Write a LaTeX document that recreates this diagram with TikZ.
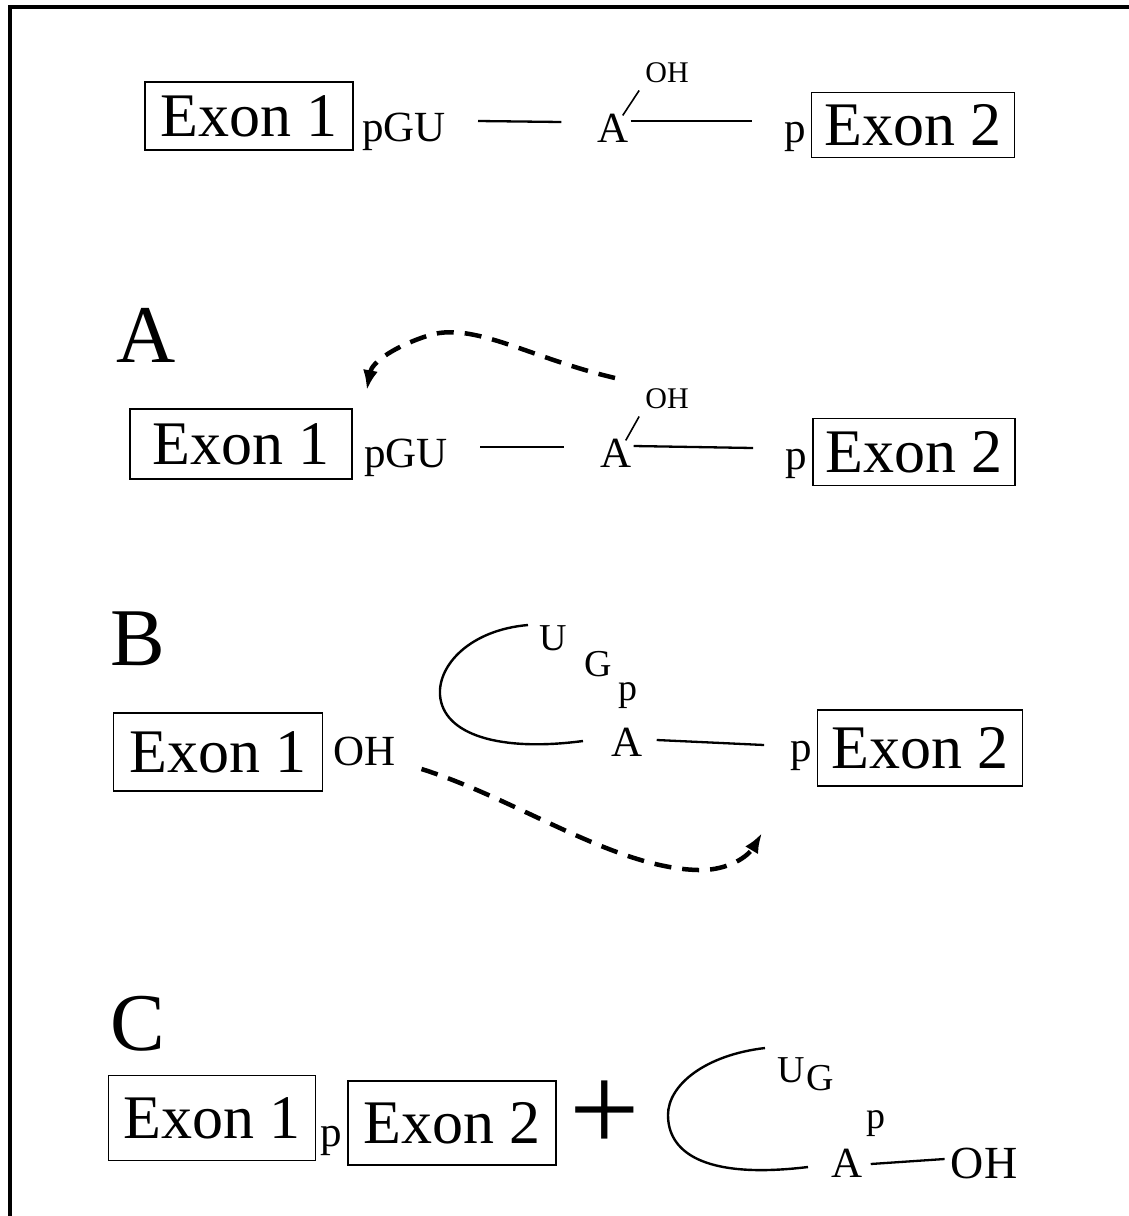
\documentclass[tikz,border=0pt]{standalone}
\usepackage{fontspec}
\setmainfont{Liberation Serif}
\usetikzlibrary{arrows.meta}
\begin{document}
\begin{tikzpicture}[x=1pt,y=-1pt,
  exon/.style={draw,line width=1.6pt,inner sep=0pt,font=\fontsize{62}{62}\selectfont},
  small/.style={inner sep=0pt,anchor=base,font=\fontsize{43}{43}\selectfont},
  tiny/.style={inner sep=0pt,anchor=base,font=\fontsize{30}{30}\selectfont},
  loopletter/.style={inner sep=0pt,anchor=base,font=\fontsize{38}{38}\selectfont},
  label/.style={inner sep=0pt,anchor=base west,font=\fontsize{82}{82}\selectfont},
  bond/.style={line width=2.3pt},
  loop/.style={line width=2.4pt},
  attack/.style={line width=4.5pt,dash pattern=on 17pt off 11pt,-{Latex[length=20pt,width=15pt]}}
]
\useasboundingbox (0,0) rectangle (1129,1216);
% frame
\draw[line width=3.5pt] (10,1216) -- (10,7) -- (1129,7);

% ---------- top row ----------
\node[exon,minimum width=208pt,minimum height=68pt] (e1t) at (249,116) {Exon 1};
\node[small] (pgut) at (404,141) {pGU};
\node[small] (at) at (613,142) {A};
\node[tiny] (oht) at (667,82) {OH};
\node[small] (pt) at (795,142) {p};
\node[exon,minimum width=203pt,minimum height=65pt] (e2t) at (913,125) {Exon 2};
\draw[bond] ([xshift=32pt,yshift=20pt]pgut.base east) -- ([xshift=-36pt,yshift=20pt]at.base west);
\draw[bond] ([xshift=2pt,yshift=21pt]at.base east) -- ([xshift=-32pt,yshift=21pt]pt.base west);
\draw[line width=1.6pt] ([xshift=-6pt,yshift=-2pt]at.north east) -- ([xshift=-6pt,yshift=-8pt]oht.south west);

% ---------- A ----------
\node[label] (la) at (116,362) {A};
\node[exon,minimum width=222pt,minimum height=70pt] (e1a) at (241,444) {Exon 1};
\node[small] (pgua) at (406,467) {pGU};
\node[small] (aa) at (616,467) {A};
\node[tiny] (oha) at (667,408) {OH};
\node[small] (pa) at (796,469) {p};
\node[exon,minimum width=202pt,minimum height=67pt] (e2a) at (914,452) {Exon 2};
\draw[bond] ([xshift=32pt,yshift=20pt]pgua.base east) -- ([xshift=-36pt,yshift=20pt]aa.base west);
\draw[bond] ([xshift=2pt,yshift=21pt]aa.base east) -- ([xshift=-32pt,yshift=21pt]pa.base west);
\draw[line width=1.6pt] ([xshift=-6pt,yshift=-2pt]aa.north east) -- ([xshift=-6pt,yshift=-8pt]oha.south west);
\coordinate (sa) at (615,378);
\draw[attack] (sa) .. controls (530,358) and (475,322) .. (430,335) .. controls (395,346) and (372,362) .. ([xshift=14pt,yshift=18pt]e1a.north east);

% ---------- B ----------
\node[label] (lb) at (110,665) {B};
\node[exon,minimum width=209pt,minimum height=78pt] (e1b) at (218,752) {Exon 1};
\node[small,anchor=base west] (ohb) at (333,765) {OH};
\node[loopletter] (ub) at (553,650) {U};
\node[loopletter] (gb) at (598,676) {G};
\node[loopletter] (ppb) at (628,700) {p};
\node[small] (ab) at (627,756) {A};
\node[small] (pb) at (801,761) {p};
\node[exon,minimum width=205pt,minimum height=76pt] (e2b) at (920,748) {Exon 2};
\draw[bond] ([xshift=14pt,yshift=16pt]ab.base east) -- ([xshift=-26pt,yshift=16pt]pb.base west);
\coordinate (lb1) at (528,625);
\coordinate (lb2) at (583,741);
\draw[loop] (lb1) .. controls (470,630) and (438,665) .. (440,695) .. controls (443,735) and (500,752) .. (lb2);
\coordinate (tb) at (762,833);
\draw[attack] ([xshift=26pt,yshift=-4pt]ohb.base east) .. controls (520,800) and (620,872) .. (705,870) .. controls (735,868) and (750,853) .. (tb);

% ---------- C ----------
\node[label] (lc) at (110,1050) {C};
\node[exon,minimum width=207pt,minimum height=85pt] (e1c) at (212,1118) {Exon 1};
\node[small] (pc) at (331,1146) {p};
\node[exon,minimum width=208pt,minimum height=84pt] (e2c) at (452,1123) {Exon 2};
\node[inner sep=0pt,font=\fontsize{125}{125}\selectfont] (plus) at (605,1116) {+};
\node[loopletter] (uc) at (791,1082) {U};
\node[loopletter] (gc) at (820,1090) {G};
\node[loopletter] (ppc) at (876,1128) {p};
\node[small] (ac) at (847,1177) {A};
\node[small,font=\fontsize{46}{46}\selectfont] (ohc) at (984,1178) {OH};
\draw[bond] ([xshift=8pt,yshift=13pt]ac.base east) -- ([xshift=-6pt,yshift=19pt]ohc.base west);
\coordinate (lc1) at (765,1048);
\coordinate (lc2) at (808,1167);
\draw[loop] (lc1) .. controls (705,1055) and (668,1085) .. (668,1115) .. controls (668,1150) and (700,1180) .. (lc2);
\end{tikzpicture}
\end{document}
